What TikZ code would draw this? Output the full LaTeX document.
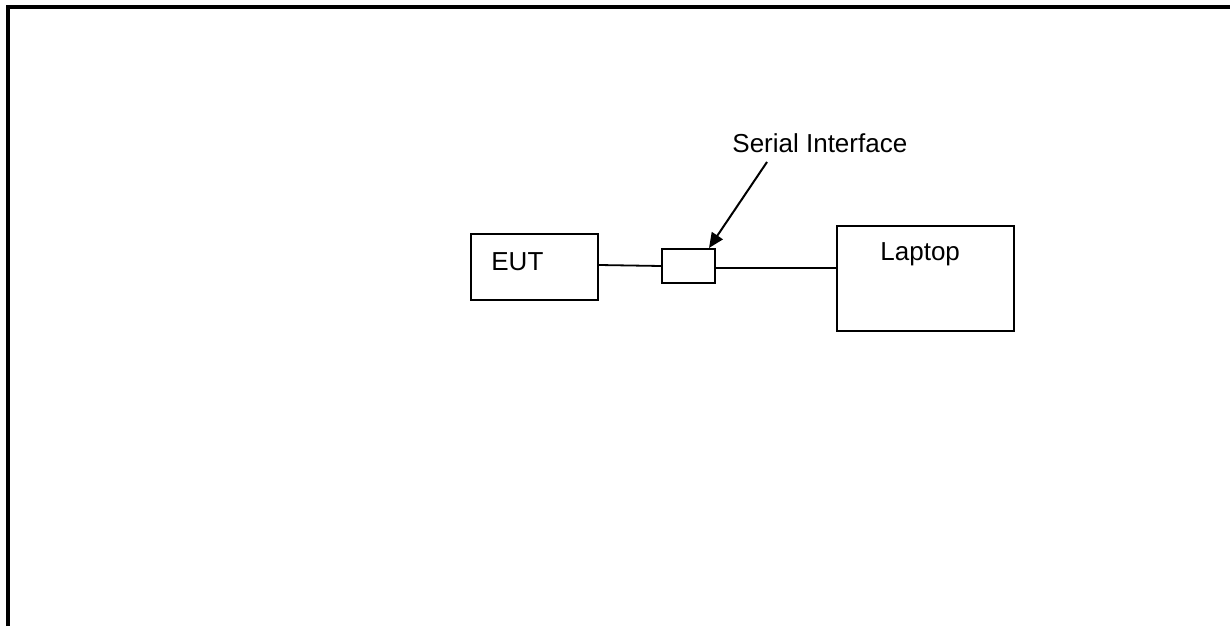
\documentclass[tikz,border=0pt]{standalone}
\usepackage{fontspec}
\setmainfont{Liberation Sans}
\usetikzlibrary{arrows.meta}
\begin{document}
\begin{tikzpicture}[x=0.5pt, y=-0.5pt, font=\fontsize{13}{15}\selectfont, line join=miter, >={Triangle[length=7.5pt,width=6.5pt]}]
	\tikzset{box/.style={draw, line width=1pt, inner sep=0pt}, txt/.style={anchor=base west, inner sep=0pt}}
	\useasboundingbox (0,0) rectangle (1230,626);
	% frame
	\draw[line width=2pt] (8,626) -- (8,6.7) -- (1230,6.7);
	\node[box, minimum width=63.5pt, minimum height=33pt] (eut) at (534.5,267) {};
	\node[box, minimum width=26.5pt, minimum height=17pt] (iface) at (688.5,266) {};
	\node[box, minimum width=88.5pt, minimum height=52.5pt] (laptop) at (925.5,278.5) {};
	\node[txt] (eutlbl) at (491,270) {EUT};
	\node[txt] (laptoplbl) at (880,260) {Laptop};
	\node[txt] (ifacelbl) at (732,152) {Serial Interface};
	\path (767,162) coordinate (S) ([xshift=-3.5pt]iface.north east) coordinate (T);
	\draw[line width=0.9pt] ([yshift=1pt]eut.east) -- (iface.west);
	\draw[line width=0.9pt] ([yshift=-1pt]iface.east) -- ([yshift=-1pt]iface.east -| laptop.west);
	\draw[line width=1pt,->] (S) -- (T);
\end{tikzpicture}
\end{document}
